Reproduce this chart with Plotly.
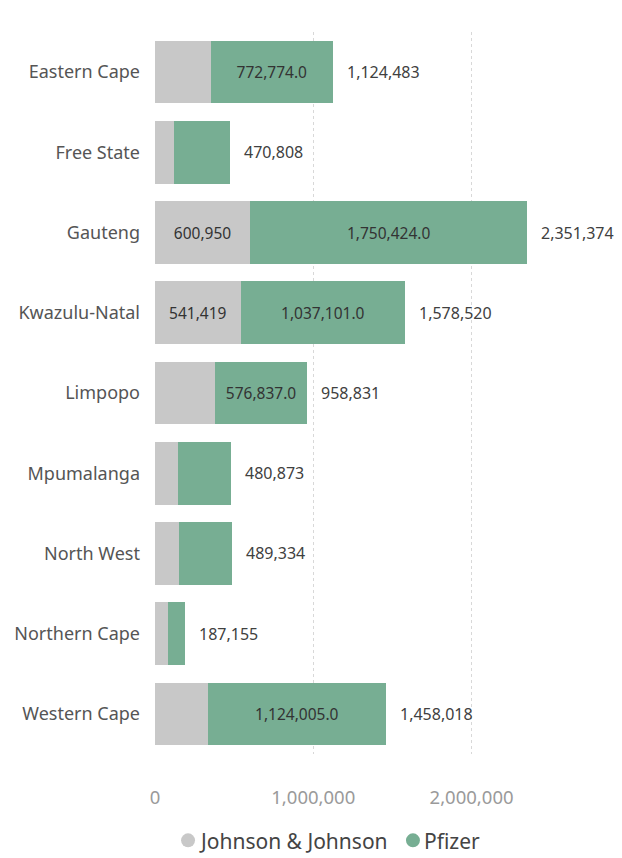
import plotly.graph_objects as go

provinces = ["Eastern Cape", "Free State", "Gauteng", "Kwazulu-Natal", "Limpopo",
             "Mpumalanga", "North West", "Northern Cape", "Western Cape"]
jnj = [351709, 122000, 600950, 541419, 381994, 148000, 154000, 80000, 334013]
pfizer = [772774, 348808, 1750424, 1037101, 576837, 332873, 335334, 107155, 1124005]
totals = [1124483, 470808, 2351374, 1578520, 958831, 480873, 489334, 187155, 1458018]
x_ticks = [0, 1000000, 2000000]
series = ["Johnson & Johnson", "Pfizer"]

GREY = "#C8C8C8"
GREEN = "#77AE93"
FONT = "Noto Sans"

jnj_text = [f"{v:,}" if v > 500000 else "" for v in jnj]
pfizer_text = [f"{v:,.1f}" if v > 400000 else "" for v in pfizer]

fig = go.Figure()
fig.add_trace(go.Bar(
    y=provinces, x=jnj, orientation="h", name=series[0],
    marker=dict(color=GREY, line=dict(width=0)),
    text=jnj_text, textposition="inside", insidetextanchor="middle",
    textfont=dict(color="#333333", size=15.5, family=FONT),
    hoverinfo="x+name",
))
fig.add_trace(go.Bar(
    y=provinces, x=pfizer, orientation="h", name=series[1],
    marker=dict(color=GREEN, line=dict(width=0)),
    text=pfizer_text, textposition="inside", insidetextanchor="middle",
    textfont=dict(color="#333333", size=15.5, family=FONT),
    hoverinfo="x+name",
))

# total labels to the right of the stacks
for p, t in zip(provinces, totals):
    fig.add_annotation(
        x=t, y=p, text=f"{t:,}", showarrow=False, xanchor="left",
        xshift=12, font=dict(color="#404040", size=16, family=FONT),
    )

# legend drawn by hand (round markers, tight spacing, no margin push)
legend_y = -0.121
for name, col, lx in zip(series, [GREY, GREEN], [0.072, 0.562]):
    fig.add_shape(
        type="circle", xref="paper", yref="paper",
        xsizemode="pixel", ysizemode="pixel", xanchor=lx, yanchor=legend_y,
        x0=-7, x1=7, y0=-6, y1=8,
        fillcolor=col, line=dict(width=0),
    )
    fig.add_annotation(
        x=lx, y=legend_y, xref="paper", yref="paper", text=name,
        showarrow=False, xanchor="left", yanchor="middle", xshift=9,
        font=dict(size=21, color="#444444", family=FONT),
    )

# the page body adds 8px on the left/top, so the figure is a bit smaller
fig.update_layout(
    barmode="stack",
    bargap=0.22,
    width=614, height=850,
    margin=dict(l=147, r=8, t=24, b=104),
    paper_bgcolor="white", plot_bgcolor="white",
    font=dict(family=FONT, color="#444444"),
    showlegend=False,
)
fig.update_xaxes(
    range=[0, 2900000], tickvals=x_ticks, tickformat=",d",
    showgrid=True, gridcolor="#D8D8D8", griddash="dot", gridwidth=1,
    zeroline=False, showline=False, automargin=False,
    tickfont=dict(size=18.5, color="#9A9A9A", family=FONT),
    ticklabelstandoff=30,
)
fig.update_yaxes(
    categoryorder="array", categoryarray=provinces, autorange="reversed",
    showgrid=False, showline=False, zeroline=False, automargin=False,
    tickfont=dict(size=18, color="#555555", family=FONT),
    ticklabelstandoff=14,
)

fig.write_html("out.html")
